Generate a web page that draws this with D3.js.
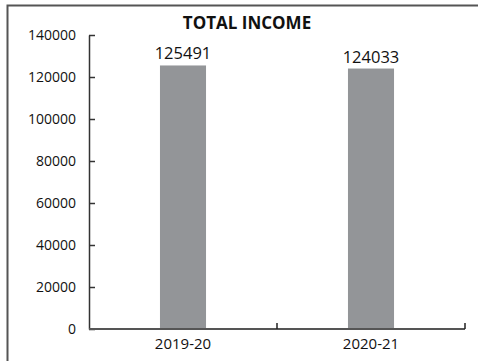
<!DOCTYPE html>
<html>
<head>
<meta charset="utf-8">
<script src="https://cdn.jsdelivr.net/npm/d3@7"></script>
<style>
  body { margin: 0; background: #fff; }
  text { font-family: "Open Sans", sans-serif; fill: #111; }
</style>
</head>
<body>
<div id="chart"></div>
<script>
// data
var years = ["2019-20", "2020-21"];
var income = [125491, 124033];
var yTicks = [0, 20000, 40000, 60000, 80000, 100000, 120000, 140000];

var svgWidth = 478;
var svgHeight = 361;

var margin = { top: 35, right: 13, bottom: 32, left: 89 };
var chartWidth = svgWidth - margin.left - margin.right;
var chartHeight = svgHeight - margin.top - margin.bottom;

var svg = d3.select("#chart").append("svg")
            .attr("width", svgWidth)
            .attr("height", svgHeight);

// outer frame (top + left)
svg.append("path")
   .attr("d", "M7.5,361 V5.5 H478")
   .attr("fill", "none")
   .attr("stroke", "#555")
   .attr("stroke-width", 2);

var chartGroup = svg.append("g")
                    .attr("transform", `translate(${margin.left}, ${margin.top})`);

var xScale = d3.scaleBand()
               .domain(years)
               .range([0, chartWidth])
               .paddingInner(0)
               .paddingOuter(0);

var yScale = d3.scaleLinear()
               .domain([0, 140000])
               .range([chartHeight, 0]);

// bars
var bw = xScale.bandwidth() * 0.245;
chartGroup.selectAll("rect.bar").data(income).enter().append("rect")
          .attr("class", "bar")
          .attr("x", (d, i) => xScale(years[i]) + xScale.bandwidth() / 2 - bw / 2)
          .attr("y", d => yScale(d))
          .attr("width", bw)
          .attr("height", d => chartHeight - yScale(d))
          .attr("fill", "#939598");

// value labels
chartGroup.selectAll("text.val").data(income).enter().append("text")
          .attr("class", "val")
          .attr("x", (d, i) => xScale(years[i]) + xScale.bandwidth() / 2)
          .attr("y", d => yScale(d) - 6)
          .attr("text-anchor", "middle")
          .style("font-size", "16.5px")
          .text(d => d);

// y axis
var leftAxis = d3.axisLeft(yScale).tickValues(yTicks).tickFormat(d3.format("d"))
                 .tickSizeInner(-6).tickSizeOuter(0).tickPadding(13);
var yAxisG = chartGroup.append("g").call(leftAxis);
yAxisG.select(".domain").attr("stroke", "#333").attr("stroke-width", 1.5);
yAxisG.selectAll(".tick line").attr("stroke", "#333").attr("stroke-width", 1.5);
yAxisG.selectAll(".tick text").style("font-size", "14px").style("font-family", "Open Sans").attr("fill", "#111");

// x axis with ticks at band edges
var xAxisG = chartGroup.append("g").attr("transform", `translate(0, ${chartHeight})`);
xAxisG.append("line")
      .attr("x1", 0).attr("x2", chartWidth)
      .attr("stroke", "#555").attr("stroke-width", 2);
xAxisG.selectAll("line.edge").data(years).enter().append("line")
      .attr("class", "edge")
      .attr("x1", d => xScale(d) + xScale.bandwidth())
      .attr("x2", d => xScale(d) + xScale.bandwidth())
      .attr("y1", 0).attr("y2", -6)
      .attr("stroke", "#222").attr("stroke-width", 1.5);
xAxisG.selectAll("text.cat").data(years).enter().append("text")
      .attr("class", "cat")
      .attr("x", d => xScale(d) + xScale.bandwidth() / 2)
      .attr("y", 20)
      .attr("text-anchor", "middle")
      .style("font-size", "15px")
      .text(d => d);

// title
svg.append("text")
   .attr("x", 247)
   .attr("y", 29)
   .attr("text-anchor", "middle")
   .style("font-size", "17px")
   .style("font-weight", "bold")
   .text("TOTAL INCOME");
</script>
</body>
</html>
